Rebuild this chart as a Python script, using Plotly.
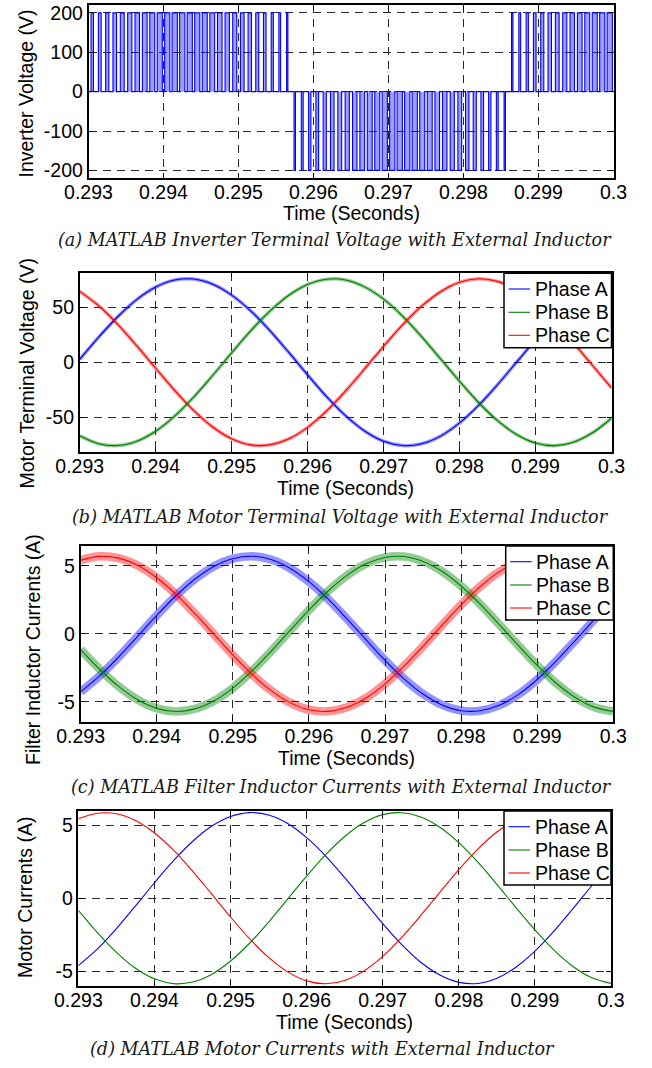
import plotly.graph_objects as go

W, H = 652, 1068
FONT = "Liberation Sans, Arial, Helvetica, sans-serif"
CAP_FONT = "DejaVu Serif, serif"
FS = 19.5

# ---------------- data ----------------
time_s = [0.29300, 0.29325, 0.29350, 0.29375, 0.29400, 0.29425, 0.29450, 0.29475,
          0.29500, 0.29525, 0.29550, 0.29575, 0.29600, 0.29625, 0.29650, 0.29675,
          0.29700, 0.29725, 0.29750, 0.29775, 0.29800, 0.29825, 0.29850, 0.29875,
          0.29900, 0.29925, 0.29950, 0.29975, 0.30000]

# (a) inverter terminal voltage: signed duty of each switching period
pwm_start = 0.293
pwm_period = 0.0001
dc_level = 200
pwm_duty = [0.32, 0.37, 0.43, 0.48, 0.52, 0.56, 0.60, 0.63, 0.66, 0.68,
            0.69, 0.70, 0.70, 0.69, 0.68, 0.67, 0.64, 0.61, 0.58, 0.54,
            0.49, 0.45, 0.40, 0.34, 0.28, 0.23, 0.17, -0.19, -0.25, -0.31,
            -0.36, -0.42, -0.47, -0.51, -0.56, -0.59, -0.63, -0.65, -0.67, -0.69,
            -0.70, -0.70, -0.70, -0.69, -0.67, -0.65, -0.62, -0.59, -0.55, -0.50,
            -0.46, -0.41, -0.35, -0.30, -0.24, -0.18, 0.18, 0.24, 0.30, 0.35,
            0.41, 0.46, 0.50, 0.55, 0.59, 0.62, 0.65, 0.67, 0.69, 0.70]

# (b) motor terminal voltage (V)
vt_A = [2.5, 22.8, 41.4, 57.0, 68.4, 74.8, 75.7, 71.0, 61.1, 46.8, 29.0, 9.1, -11.5, -31.3, -48.7,
        -62.6, -71.9, -75.9, -74.3, -67.3, -55.3, -39.3, -20.4, 0.0, 20.4, 39.3, 55.3, 67.3, 74.3]
vt_B = [-67.0, -74.2, -75.9, -72.0, -62.9, -49.1, -31.8, -12.1, 8.5, 28.5, 46.3, 60.8, 70.8, 75.6, 74.9,
        68.6, 57.4, 41.9, 23.3, 3.0, -17.4, -36.7, -53.2, -65.8, -73.6, -76.0, -72.8, -64.3, -51.0]
vt_C = [64.5, 51.4, 34.5, 15.0, -5.5, -25.6, -43.9, -59.0, -69.7, -75.3, -75.3, -69.9, -59.3, -44.4, -26.2,
        -6.1, 14.5, 34.0, 51.0, 64.2, 72.8, 76.0, 73.6, 65.8, 53.2, 36.7, 17.5, -3.0, -23.3]

# (c) filter inductor currents (A)
il_A = [-4.26, -3.09, -1.70, -0.18, 1.35, 2.78, 4.01, 4.95, 5.52, 5.70, 5.46, 4.82, 3.83, 2.56, 1.10,
        -0.43, -1.94, -3.30, -4.42, -5.22, -5.64, -5.65, -5.25, -4.46, -3.35, -1.99, -0.49, 1.04, 2.51]
il_B = [-1.15, -2.60, -3.86, -4.84, -5.47, -5.70, -5.51, -4.93, -3.98, -2.74, -1.30, 0.23, 1.74, 3.13, 4.29,
        5.14, 5.61, 5.68, 5.32, 4.59, 3.51, 2.18, 0.70, -0.84, -2.32, -3.63, -4.67, -5.38, -5.69]
il_C = [5.41, 5.69, 5.56, 5.03, 4.12, 2.92, 1.50, -0.02, -1.55, -2.96, -4.15, -5.05, -5.57, -5.69, -5.39,
        -4.71, -3.67, -2.37, -0.90, 0.64, 2.13, 3.47, 4.55, 5.30, 5.67, 5.62, 5.16, 4.33, 3.18]

# (d) motor currents (A)
im_A = [-4.62, -3.48, -2.08, -0.53, 1.06, 2.57, 3.89, 4.93, 5.60, 5.87, 5.70, 5.12, 4.15, 2.89, 1.41,
        -0.17, -1.74, -3.18, -4.39, -5.27, -5.77, -5.85, -5.49, -4.73, -3.63, -2.26, -0.72, 0.87, 2.40]
im_B = [-0.83, -2.36, -3.71, -4.80, -5.53, -5.86, -5.75, -5.23, -4.31, -3.09, -1.64, -0.06, 1.51, 2.98, 4.23,
        5.17, 5.73, 5.86, 5.57, 4.87, 3.81, 2.47, 0.95, -0.64, -2.18, -3.56, -4.68, -5.46, -5.84]
im_C = [5.45, 5.83, 5.79, 5.33, 4.47, 3.29, 1.86, 0.30, -1.29, -2.78, -4.06, -5.05, -5.67, -5.87, -5.64,
        -5.00, -3.99, -2.68, -1.18, 0.40, 1.96, 3.37, 4.54, 5.37, 5.81, 5.82, 5.41, 4.59, 3.44]

phase_names = ["Phase A", "Phase B", "Phase C"]

x_tickvals = [0.293, 0.294, 0.295, 0.296, 0.297, 0.298, 0.299, 0.300]
x_ticktext = ["0.293", "0.294", "0.295", "0.296", "0.297", "0.298", "0.299", "0.3"]

y_ticks_a = [-200, -100, 0, 100, 200]
y_text_a = ["-200", "-100", "0", "100", "200"]
y_ticks_b = [-50, 0, 50]
y_text_b = ["-50", "0", "50"]
y_ticks_i = [-5, 0, 5]
y_text_i = ["-5", "0", "5"]

y_titles = ["Inverter Voltage (V)", "Motor Terminal Voltage (V)",
            "Filter Inductor Currents (A)", "Motor Currents (A)"]
x_title = "Time (Seconds)"
captions = ["(a) MATLAB Inverter Terminal Voltage with External Inductor",
            "(b) MATLAB Motor Terminal Voltage with External Inductor",
            "(c) MATLAB Filter Inductor Currents with External Inductor",
            "(d) MATLAB Motor Currents with External Inductor"]

# ---------------- styling / layout ----------------
BLUE, GREEN, RED = "rgb(0,0,255)", "rgb(0,128,0)", "rgb(255,0,0)"
BAND = ["rgba(0,0,255,0.42)", "rgba(0,128,0,0.42)", "rgba(255,0,0,0.42)"]
COLORS = [BLUE, GREEN, RED]

# panel boxes in pixels: (left, right, top, bottom)
boxes = [(88.5, 613.5, 5.0, 178.3),
         (79.7, 611.5, 272.7, 451.7),
         (80.6, 613.3, 546.0, 721.7),
         (78.4, 611.0, 810.7, 985.7)]
y_ranges = [[-220, 220], [-81.5, 81.5], [-6.45, 6.45], [-6.0, 6.0]]
y_tick_sets = [(y_ticks_a, y_text_a), (y_ticks_b, y_text_b), (y_ticks_i, y_text_i), (y_ticks_i, y_text_i)]
ytitle_pos = [(25, 93.5), (26.5, 373), (32.5, 649.5), (25, 898)]
xtitle_y = [213.5, 487.5, 757.5, 1021.5]
caption_pos = [(335, 239.5), (340.5, 517.2), (341.7, 787.2), (322.5, 1048.8)]
# legend boxes (left, right, top, bottom) and entry geometry, pixels
leg_boxes = [None, (504, 611.5, 273.3, 347.7), (505.7, 613.3, 546.0, 620.0), (504, 611.0, 811.0, 885.0)]
leg_row_offsets = [15.7, 39.0, 62.0]
leg_line = (4.5, 26.0)
leg_text_x = 28.5
band_widths = [0, 3.5, 8.5, 0]


def px_x(x):
    return x / W


def px_y(y):
    return 1 - y / H


fig = go.Figure()

# (a) PWM waveform built from the duty list
pwm_t, pwm_v = [], []
for i, d in enumerate(pwm_duty):
    t0 = pwm_start + i * pwm_period
    c = t0 + pwm_period / 2
    hw = abs(d) * pwm_period / 2
    lvl = dc_level if d > 0 else -dc_level
    pwm_t += [t0, c - hw, c - hw, c + hw, c + hw]
    pwm_v += [0, 0, lvl, lvl, 0]
pwm_t.append(pwm_start + len(pwm_duty) * pwm_period)
pwm_v.append(0)

fig.add_trace(go.Scatter(x=pwm_t, y=pwm_v, mode="lines", xaxis="x", yaxis="y",
                         line=dict(color=BLUE, width=1.1), fill="tozeroy",
                         fillcolor="rgba(40,40,255,0.45)", showlegend=False, hoverinfo="skip"))

panel_series = [None, (vt_A, vt_B, vt_C), (il_A, il_B, il_C), (im_A, im_B, im_C)]
for p in range(1, 4):
    series = panel_series[p]
    ax = str(p + 1)
    if band_widths[p] > 0:
        for k, ys in enumerate(series):
            fig.add_trace(go.Scatter(x=time_s, y=ys, mode="lines", xaxis="x" + ax, yaxis="y" + ax,
                                     line=dict(color=BAND[k], width=band_widths[p], shape="spline"),
                                     showlegend=False, hoverinfo="skip"))
    for k, ys in enumerate(series):
        fig.add_trace(go.Scatter(x=time_s, y=ys, mode="lines", name=phase_names[k],
                                 xaxis="x" + ax, yaxis="y" + ax, showlegend=False,
                                 line=dict(color=COLORS[k], width=1.1, shape="spline")))

layout = dict(width=W, height=H, margin=dict(l=0, r=0, t=0, b=0, autoexpand=False),
              template="none",
              paper_bgcolor="white", plot_bgcolor="white",
              font=dict(family=FONT, size=FS, color="black"),
              showlegend=False, annotations=[], shapes=[])

axis_common = dict(showline=True, linecolor="black", linewidth=1.5, mirror="ticks",
                   ticks="inside", ticklen=5, tickwidth=1, tickcolor="black",
                   showgrid=True, gridcolor="rgb(40,40,40)", gridwidth=1, griddash="8px,6px",
                   zeroline=False, automargin=False,
                   tickfont=dict(family=FONT, size=FS, color="black"),
                   fixedrange=True)

txt = dict(xref="paper", yref="paper", showarrow=False)

for p, (l, r, top, bot) in enumerate(boxes):
    sfx = "" if p == 0 else str(p + 1)
    layout["xaxis" + sfx] = dict(axis_common, domain=[px_x(l), px_x(r)], range=[0.293, 0.300],
                                 tickmode="array", tickvals=x_tickvals, ticktext=x_ticktext,
                                 anchor="y" + sfx, ticklabelstandoff=-4)
    tv, tt = y_tick_sets[p]
    layout["yaxis" + sfx] = dict(axis_common, domain=[px_y(bot), px_y(top)], range=y_ranges[p],
                                 tickmode="array", tickvals=tv, ticktext=tt,
                                 anchor="x" + sfx)
    yx, yy = ytitle_pos[p]
    layout["annotations"].append(dict(txt, text=y_titles[p], x=px_x(yx), y=px_y(yy),
                                      textangle=-90, xanchor="center", yanchor="middle",
                                      font=dict(family=FONT, size=FS, color="black")))
    layout["annotations"].append(dict(txt, text=x_title, x=px_x((l + r) / 2), y=px_y(xtitle_y[p]),
                                      xanchor="center", yanchor="middle",
                                      font=dict(family=FONT, size=FS, color="black")))
    cx, cy = caption_pos[p]
    layout["annotations"].append(dict(txt, text="<i>" + captions[p] + "</i>", x=px_x(cx), y=px_y(cy),
                                      xanchor="center", yanchor="middle",
                                      font=dict(family=CAP_FONT, size=17.6, color="rgb(25,25,25)")))
    # legend box drawn as a framed key
    if leg_boxes[p] is not None:
        bl, br, bt, bb = leg_boxes[p]
        layout["shapes"].append(dict(type="rect", xref="paper", yref="paper",
                                     x0=px_x(bl), x1=px_x(br), y0=px_y(bb), y1=px_y(bt),
                                     line=dict(color="black", width=1.5), fillcolor="white", layer="above"))
        for k in range(3):
            ry = bt + leg_row_offsets[k]
            layout["shapes"].append(dict(type="line", xref="paper", yref="paper",
                                         x0=px_x(bl + leg_line[0]), x1=px_x(bl + leg_line[1]),
                                         y0=px_y(ry), y1=px_y(ry),
                                         line=dict(color=COLORS[k], width=1.1), layer="above"))
            layout["annotations"].append(dict(txt, text=phase_names[k], x=px_x(bl + leg_text_x), y=px_y(ry),
                                              xanchor="left", yanchor="middle",
                                              font=dict(family=FONT, size=FS, color="black")))

fig.update_layout(**layout)
fig.write_html("out.html", config={"displayModeBar": False},
               post_script="document.body.style.margin='0';")
